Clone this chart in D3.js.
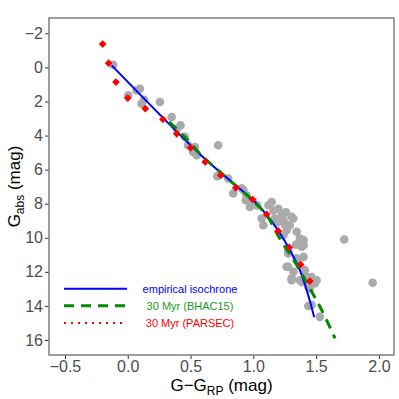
<!DOCTYPE html>
<html>
<head>
<meta charset="utf-8">
<script src="https://cdn.jsdelivr.net/npm/d3@7"></script>
<style>
  body { margin: 0; background: #fff; }
  svg { font-family: "Liberation Sans", Arial, sans-serif; }
</style>
</head>
<body>
<svg id="chart" width="399" height="399"></svg>
<script>
// observed members: [G-G_RP, G_abs]
const members = [
  [-0.115, -0.16],
  [0.004, 1.64], [0.07, 1.35], [0.097, 1.25], [0.11, 2.13], [0.13, 1.9],
  [0.256, 2.03],
  [0.35, 2.91], [0.39, 3.6], [0.42, 3.4], [0.455, 4.08], [0.48, 4.57],
  [0.535, 4.67], [0.52, 4.96], [0.55, 5.16],
  [0.72, 4.57],
  [0.712, 6.39], [0.80, 6.52],
  [0.84, 7.4], [0.907, 7.1], [0.92, 7.2], [0.946, 7.5], [0.94, 7.8],
  [0.973, 8.19], [1.0, 7.9], [1.03, 8.1],
  [1.066, 8.87], [1.08, 9.26], [1.146, 7.9], [1.12, 8.09], [1.16, 8.4],
  [1.17, 8.87], [1.2, 8.3], [1.225, 8.68], [1.24, 8.97], [1.26, 8.5],
  [1.305, 8.77], [1.318, 8.87], [1.29, 9.26], [1.265, 9.55], [1.24, 9.85],
  [1.19, 9.1], [1.25, 9.2], [1.345, 9.65], [1.371, 10.04], [1.40, 10.14],
  [1.40, 10.43], [1.385, 10.53], [1.34, 10.4], [1.278, 10.73], [1.278, 10.92],
  [1.345, 11.2], [1.40, 11.12], [1.35, 11.3], [1.265, 11.7], [1.278, 11.7],
  [1.41, 11.9], [1.32, 12.0], [1.305, 12.38], [1.305, 12.49], [1.371, 12.49],
  [1.385, 12.6], [1.424, 12.29], [1.464, 12.3], [1.49, 12.68], [1.504, 12.49],
  [1.45, 12.97], [1.44, 12.9], [1.437, 14.0], [1.464, 13.95], [1.53, 14.64],
  [1.724, 10.1], [1.95, 12.64]
];

const empirical = [
  [-0.128, -0.12], [0.575, 5.1], [0.8, 6.55], [1.0, 7.8], [1.1, 8.6],
  [1.2, 9.6], [1.29, 10.7], [1.37, 11.9], [1.43, 13.2], [1.485, 14.67]
];

const bhac15 = [
  [0.33, 3.2], [0.45, 4.05], [0.6, 5.25], [0.8, 6.55], [1.0, 7.85],
  [1.106, 8.68], [1.21, 10.04], [1.345, 11.6], [1.45, 12.97],
  [1.544, 14.24], [1.65, 15.9]
];

const parsec = [
  [-0.20, -1.37], [-0.152, -0.25], [-0.094, 0.86], [0.0, 1.8], [0.14, 2.42],
  [0.28, 3.05], [0.39, 3.9], [0.50, 4.72], [0.617, 5.55], [0.74, 6.33],
  [0.86, 7.07], [0.994, 7.75], [1.106, 8.62], [1.198, 9.6], [1.286, 10.57],
  [1.377, 11.57], [1.45, 12.54]
];

const xTicks = [-0.5, 0.0, 0.5, 1.0, 1.5, 2.0];
const yTicks = [-2, 0, 2, 4, 6, 8, 10, 12, 14, 16];
const legendLabels = ["empirical isochrone", "30 Myr (BHAC15)", "30 Myr (PARSEC)"];

const svg = d3.select("#chart");
const panel = { left: 49, top: 18, right: 394, bottom: 355 };

const x = d3.scaleLinear().domain([-0.627, 2.12]).range([panel.left, panel.right]);
const y = d3.scaleLinear().domain([-2.9, 16.88]).range([panel.top, panel.bottom]);

svg.append("clipPath").attr("id", "clip")
  .append("rect")
  .attr("x", panel.left).attr("y", panel.top)
  .attr("width", panel.right - panel.left).attr("height", panel.bottom - panel.top);

const plot = svg.append("g").attr("clip-path", "url(#clip)");

plot.selectAll(".member")
  .data(members)
  .enter().append("circle")
  .attr("class", "member")
  .attr("cx", d => x(d[0]))
  .attr("cy", d => y(d[1]))
  .attr("r", 4.3)
  .attr("fill", "#aaaaaa");

const line = d3.line().x(d => x(d[0])).y(d => y(d[1])).curve(d3.curveCatmullRom);

plot.append("path")
  .datum(empirical)
  .attr("d", line)
  .attr("fill", "none")
  .attr("stroke", "#0000ff")
  .attr("stroke-width", 2);

plot.append("path")
  .datum(bhac15)
  .attr("d", line)
  .attr("fill", "none")
  .attr("stroke", "#008b00")
  .attr("stroke-width", 3)
  .attr("stroke-dasharray", "10,7");

const diamond = d3.symbol().type(d3.symbolSquare).size(30);
plot.selectAll(".parsec")
  .data(parsec)
  .enter().append("path")
  .attr("class", "parsec")
  .attr("d", diamond)
  .attr("transform", d => `translate(${x(d[0])},${y(d[1])}) rotate(45)`)
  .attr("fill", "#ff0000");

// axes
const xAxis = svg.append("g")
  .attr("transform", `translate(0,${panel.bottom})`)
  .call(d3.axisBottom(x).tickValues(xTicks).tickSize(4).tickPadding(2).tickFormat(d3.format(".1f")));
const yAxis = svg.append("g")
  .attr("transform", `translate(${panel.left},0)`)
  .call(d3.axisLeft(y).tickValues(yTicks).tickSize(4).tickPadding(2).tickFormat(d3.format("d")));

[xAxis, yAxis].forEach(g => {
  g.select(".domain").remove();
  g.selectAll(".tick line").attr("stroke", "#333333").attr("stroke-width", 1);
  g.selectAll(".tick text")
    .attr("fill", "#4d4d4d")
    .style("font-size", "16px")
    .style("font-family", "'Liberation Sans', Arial, sans-serif");
});

svg.append("rect")
  .attr("x", panel.left).attr("y", panel.top)
  .attr("width", panel.right - panel.left).attr("height", panel.bottom - panel.top)
  .attr("fill", "none")
  .attr("stroke", "#7f7f7f")
  .attr("stroke-width", 1.5);

// axis titles
const xt = svg.append("text")
  .attr("x", (panel.left + panel.right) / 2)
  .attr("y", 391)
  .attr("text-anchor", "middle")
  .style("font-size", "17px")
  .attr("fill", "#000");
xt.append("tspan").text("G\u2212G");
xt.append("tspan").attr("dy", 4).style("font-size", "12px").text("RP");
xt.append("tspan").attr("dy", -4).text(" (mag)");

const yt = svg.append("text")
  .attr("transform", `translate(20,${(panel.top + panel.bottom) / 2}) rotate(-90)`)
  .attr("text-anchor", "middle")
  .style("font-size", "17px")
  .attr("fill", "#000");
yt.append("tspan").text("G");
yt.append("tspan").attr("dy", 4).style("font-size", "12px").text("abs");
yt.append("tspan").attr("dy", -4).text(" (mag)");

// legend
const legendStyles = [
  { color: "#0000ff", width: 2, dash: null, text: "#0000ff" },
  { color: "#008b00", width: 3, dash: "10,7", text: "#1a9a1a" },
  { color: "#ff0000", width: 2, dash: "2,5", text: "#ff0000" }
];
const legendY = [288.7, 305.7, 323];

const legend = svg.append("g");
legendLabels.forEach((label, i) => {
  const s = legendStyles[i];
  legend.append("line")
    .attr("x1", 64).attr("x2", 127)
    .attr("y1", legendY[i]).attr("y2", legendY[i])
    .attr("stroke", s.color)
    .attr("stroke-width", s.width)
    .attr("stroke-dasharray", s.dash);
  legend.append("text")
    .attr("x", 190)
    .attr("y", legendY[i] + 4)
    .attr("text-anchor", "middle")
    .style("font-size", "11px")
    .attr("fill", s.text)
    .text(label);
});
</script>
</body>
</html>
